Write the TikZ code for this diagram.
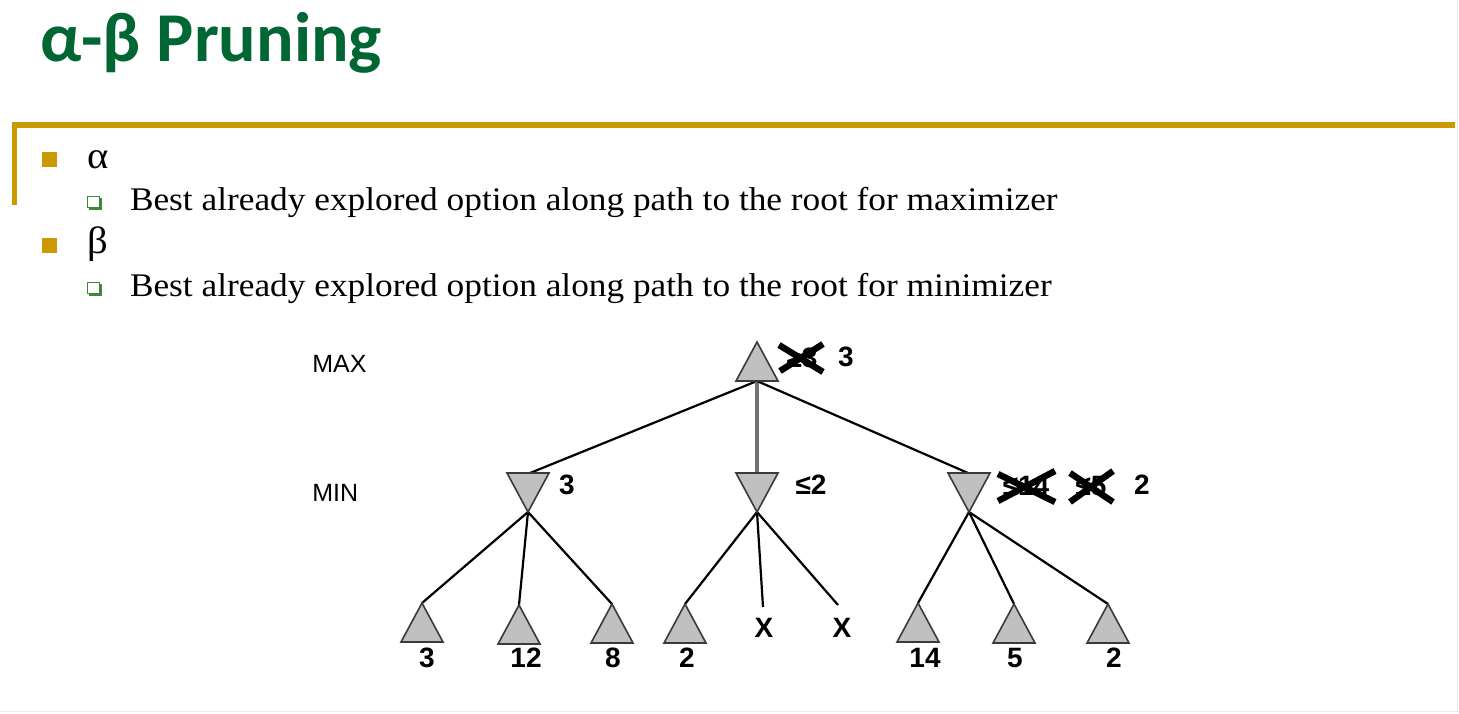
\documentclass[tikz,border=0pt]{standalone}
\usepackage{fontspec}
\setmainfont{Liberation Serif}[FakeStretch=1.07]
\newfontfamily\titlefont{Carlito}
\newfontfamily\treefont{Liberation Sans}
\definecolor{gold}{HTML}{CC9900}
\definecolor{titlegreen}{HTML}{006633}
\definecolor{subgreen}{HTML}{3A8A3A}
\definecolor{trifill}{HTML}{C0C0C0}
\definecolor{triline}{HTML}{3A3A3A}
\tikzset{
  txt/.style={anchor=base west, inner sep=0pt, outer sep=0pt},
  bodytext/.style={txt, font=\fontsize{16.5}{19}\selectfont},
  greektext/.style={txt, font=\fontsize{19}{22}\selectfont},
  levellabel/.style={anchor=west, inner sep=0pt, font=\treefont\fontsize{12.5}{14}\selectfont},
  vallabel/.style={inner sep=0pt, font=\treefont\bfseries\fontsize{14}{16}\selectfont},
  tri/.style={fill=trifill, draw=triline, line width=0.8pt, line join=miter},
  edge/.style={line width=1.1pt, black},
  cross/.style={line width=3.2pt, black},
  goldbar/.style={fill=gold},
}
\newcommand{\uptri}[1]{\draw[tri] (#1) -- ++(21,39) -- ++(-42,0) -- cycle; \draw[triline, line width=1.3pt] ($(#1)+(-21,39)$) -- ++(42,0);}
\newcommand{\downtri}[1]{\draw[tri] (#1) -- ++(-21,-39) -- ++(42,0) -- cycle;}
\usetikzlibrary{calc}
\begin{document}
\begin{tikzpicture}[x=0.5pt,y=-0.5pt]
\useasboundingbox (0,0) rectangle (1459,713);
\fill[white] (0,0) rectangle (1459,713);
\draw[gray!15, line width=0.5pt] (1457.5,0) -- (1457.5,713);
\draw[gray!15, line width=0.5pt] (0,711.5) -- (1459,711.5);
% title
\node[txt, text=titlegreen, font=\titlefont\bfseries\fontsize{35}{40}\selectfont] (title) at (40,61) {α-β Pruning};
% gold rule
\fill[goldbar] (12,122) rectangle (1455,128);
\fill[goldbar] (12,122) rectangle (17,205);
% bullets
\fill[gold] (42,152) rectangle (57,167);
\fill[gold] (42,238) rectangle (57,253);
\node[greektext] (alpha) at (87,168) {α};
\node[greektext] (beta) at (87,253) {β};
\fill[subgreen] (88.5,197.5) rectangle (101.5,209.5);
\fill[white,draw=subgreen,line width=0.5pt] (87,196) rectangle (99,207.5);
\fill[subgreen] (88.5,283.5) rectangle (101.5,295.5);
\fill[white,draw=subgreen,line width=0.5pt] (87,282) rectangle (99,293.5);
\node[bodytext] (l1) at (130,210) {Best already explored option along path to the root for maximizer};
\node[bodytext] (l2) at (130,296) {Best already explored option along path to the root for minimizer};
% tree level labels
\node[levellabel] (maxl) at (312,364) {MAX};
\node[levellabel] (minl) at (312,493) {MIN};
% coordinates
\coordinate (root) at (757,342);
\coordinate (rootb) at (757,381);
\coordinate (m1) at (528,512); \coordinate (m1t) at (530,473);
\coordinate (m2) at (757,512); \coordinate (m2t) at (757,473);
\coordinate (m3) at (969,512); \coordinate (m3t) at (968,473);
\coordinate (a1) at (422,603);
\coordinate (a2) at (519,605);
\coordinate (a3) at (612,604);
\coordinate (b1) at (685,604);
\coordinate (b2) at (763,607);
\coordinate (b3) at (838,605);
\coordinate (c1) at (918,603);
\coordinate (c2) at (1014,604);
\coordinate (c3) at (1108,604);
% edges
\draw[edge] (rootb) -- (m1t);
\draw[line width=1.6pt, black!55] (rootb) -- (m2t);
\draw[edge] (rootb) -- (m3t);
\foreach \m/\l in {m1/a1,m1/a2,m1/a3,m2/b1,m2/b2,m2/b3,m3/c1,m3/c2,m3/c3}{
  \draw[edge] (\m) -- (\l);
}
% triangles
\uptri{root}
\downtri{m1}\downtri{m2}\downtri{m3}
\foreach \l in {a1,a2,a3,b1,c1,c2,c3}{\uptri{\l}}
% leaf values
\node[vallabel] (va1) at (427,658) {3};
\node[vallabel] (va2) at (526,658) {12};
\node[vallabel] (va3) at (613,658) {8};
\node[vallabel] (vb1) at (687,658) {2};
\node[vallabel] (xb2) at (764,628) {X};
\node[vallabel] (xb3) at (842,628) {X};
\node[vallabel] (vc1) at (925,658) {14};
\node[vallabel] (vc2) at (1015,658) {5};
\node[vallabel] (vc3) at (1114,658) {2};
% min values
\node[vallabel] (vm1) at (567,485) {3};
\node[vallabel] (vm2) at (811,485) {≤2};
\node[vallabel] (vm3a) at (1026,486) {≤14};
\node[vallabel] (vm3b) at (1091,486) {≤5};
\node[vallabel] (vm3c) at (1142,485) {2};
\draw[cross] (998,474) -- (1055,502);
\draw[cross] (998,501) -- (1055,471);
\draw[cross] (1070,473) -- (1113,502);
\draw[cross] (1070,502) -- (1113,471);
% root values
\node[vallabel] (vr1) at (802,358) {≥3};
\node[vallabel] (vr2) at (846,357) {3};
\draw[cross] (779,345) -- (823,372);
\draw[cross] (780,371) -- (823,344);
\end{tikzpicture}
\end{document}
